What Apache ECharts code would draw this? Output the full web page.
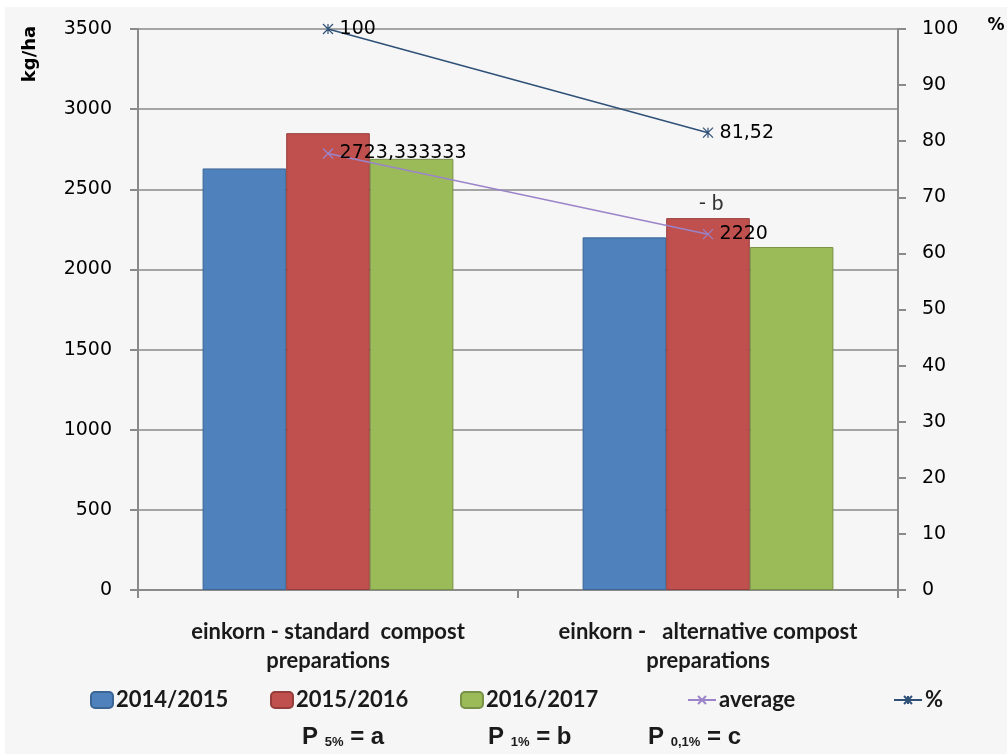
<!DOCTYPE html>
<html><head><meta charset="utf-8">
<script src="https://cdn.jsdelivr.net/npm/echarts@6/dist/echarts.min.js"></script>
<style>html,body{margin:0;padding:0;background:#fff}#c{width:1007px;height:754px}</style>
</head><body><div id="c"></div>
<script>
const categories = ['einkorn - standard  compost\npreparations', 'einkorn -   alternative compost\npreparations'];
const seriesNames = ['2014/2015', '2015/2016', '2016/2017', 'average', '%'];
const v2014 = [2630, 2200];
const v2015 = [2850, 2320];
const v2016 = [2690, 2140];
const avgValues = [2723.333333, 2220];
const pctValues = [100, 81.52];
const sigLabels2015 = ['', '- b'];
const leftTicks = [0, 3500, 500];
const rightTicks = [0, 100, 10];

const chart = echarts.init(document.getElementById('c'));
const asterisk = 'path://M0,0L10,10M10,0L0,10M5,0L5,10';
const cross = 'path://M0,0L10,10M10,0L0,10';
const labFont = 'DejaVu Sans';
const txtFont = 'Lato';
const comma = p => String(p.value).replace('.', ',');
const plain = v => String(v);

function barSeries(name, vals, color, border, extra) {
  return {
    name, type: 'bar', barGap: 0, barCategoryGap: '34%',
    itemStyle: {color, borderColor: border, borderWidth: 1},
    data: vals.map((v, i) => {
      const d = {value: v};
      if (extra && extra[i]) d.label = {show: true, position: 'top', distance: 4, formatter: extra[i],
        fontFamily: txtFont, fontSize: 21, color: '#333', offset: [3, 0]};
      return d;
    })
  };
}
function legendAt(name, left, w, h) {
  return {data: [name], left, top: 689, padding: 0, itemWidth: w, itemHeight: h, itemGap: 0,
    textStyle: {fontFamily: txtFont, fontSize: 22, fontWeight: 'bold', color: '#1a1a1a', padding: [0, 0, 0, -2]}};
}
const pRich = {
  p: {fontFamily: 'Liberation Sans', fontSize: 24, fontWeight: 'bold', fill: '#1a1a1a'},
  s: {fontFamily: 'Liberation Sans', fontSize: 13, fontWeight: 'bold', fill: '#1a1a1a', padding: [11, 0, 0, 0]}
};

chart.setOption({
  animation: false,
  backgroundColor: '#ffffff',
  graphic: [
    {type: 'rect', z: -10, shape: {x: 5, y: 7, width: 1002, height: 747}, style: {fill: '#f6f6f6'}},
    {type: 'text', x: 30, y: 54, rotation: Math.PI / 2,
      style: {text: 'kg/ha', font: 'bold 18px DejaVu Sans', fill: '#000', textAlign: 'center', textVerticalAlign: 'middle'}},
    {type: 'text', x: 996, y: 26,
      style: {text: '%', font: 'bold 17px DejaVu Sans', fill: '#000', textAlign: 'center', textVerticalAlign: 'middle'}},
    {type: 'text', x: 302, y: 737, style: {text: '{p|P }{s|5%}{p| = a}', textVerticalAlign: 'middle', rich: pRich}},
    {type: 'text', x: 488, y: 737, style: {text: '{p|P }{s|1%}{p| = b}', textVerticalAlign: 'middle', rich: pRich}},
    {type: 'text', x: 648, y: 737, style: {text: '{p|P }{s|0,1%}{p| = c}', textVerticalAlign: 'middle', rich: pRich}}
  ],
  legend: [
    legendAt(seriesNames[0], 90, 22, 16),
    legendAt(seriesNames[1], 270, 22, 16),
    legendAt(seriesNames[2], 460, 22, 16),
    legendAt(seriesNames[3], 687, 28, 10),
    legendAt(seriesNames[4], 893, 28, 10)
  ],
  grid: {left: 138, right: 109, top: 29, bottom: 164},
  xAxis: {
    type: 'category', data: categories,
    axisLine: {lineStyle: {color: '#8a8a8a', width: 2}},
    axisTick: {show: true, length: 8, lineStyle: {color: '#8a8a8a', width: 2}},
    axisLabel: {interval: 0, margin: 27, fontFamily: txtFont, fontSize: 22, fontWeight: 'bold', lineHeight: 29, color: '#1a1a1a'}
  },
  yAxis: [
    {type: 'value', min: leftTicks[0], max: leftTicks[1], interval: leftTicks[2],
      axisLine: {show: true, lineStyle: {color: '#8a8a8a', width: 2}},
      axisTick: {show: true, length: 8, lineStyle: {color: '#8a8a8a', width: 2}},
      splitLine: {lineStyle: {color: '#8a8a8a', width: 1.5}},
      axisLabel: {margin: 26, fontFamily: labFont, fontSize: 19, color: '#000', formatter: plain}},
    {type: 'value', min: rightTicks[0], max: rightTicks[1], interval: rightTicks[2], position: 'right',
      axisLine: {show: true, lineStyle: {color: '#8a8a8a', width: 2}},
      axisTick: {show: true, length: 8, lineStyle: {color: '#8a8a8a', width: 2}},
      splitLine: {show: false},
      axisLabel: {margin: 24, fontFamily: labFont, fontSize: 19, color: '#000', formatter: plain}}
  ],
  series: [
    barSeries(seriesNames[0], v2014, '#4f81bd', '#3b6594'),
    barSeries(seriesNames[1], v2015, '#c0504d', '#963d3b', sigLabels2015),
    barSeries(seriesNames[2], v2016, '#9bbb59', '#779146'),
    {name: seriesNames[3], type: 'line', data: avgValues, symbol: cross, symbolSize: 10,
      lineStyle: {color: '#9b84c9', width: 1.5},
      itemStyle: {color: '#9b84c9', borderColor: '#9b84c9', borderWidth: 1.2},
      label: {show: true, position: 'right', distance: 6, formatter: comma, fontFamily: labFont, fontSize: 19, color: '#000'}},
    {name: seriesNames[4], type: 'line', yAxisIndex: 1, data: pctValues, symbol: asterisk, symbolSize: 10,
      lineStyle: {color: '#2f5178', width: 1.5},
      itemStyle: {color: '#2f5178', borderColor: '#2f5178', borderWidth: 1.2},
      label: {show: true, position: 'right', distance: 6, formatter: comma, fontFamily: labFont, fontSize: 19, color: '#000'}}
  ]
});
</script></body></html>
